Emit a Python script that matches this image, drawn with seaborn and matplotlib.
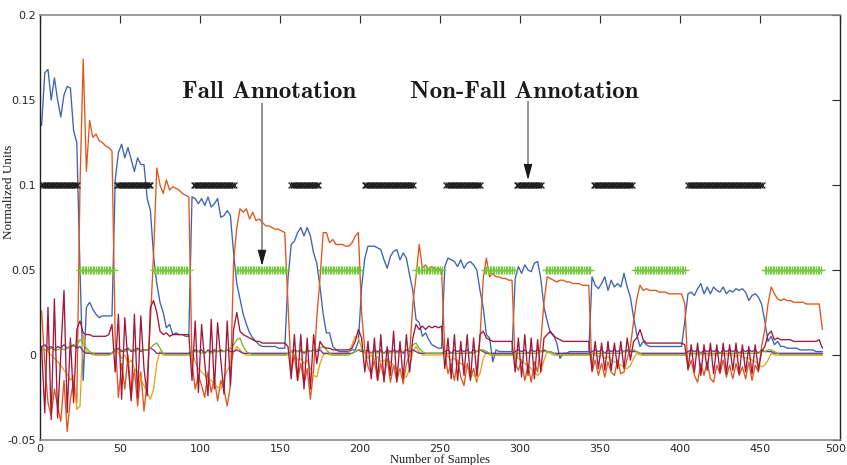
import numpy as np
import pandas as pd
import matplotlib
matplotlib.use("Agg")
import matplotlib.pyplot as plt
import matplotlib.transforms as mtransforms
import seaborn as sns

# ---------------- data (values in thousandths of a normalized unit) ----------------
samples = np.arange(1, 490, 2)

blue = [135,166,168,150,163,150,140,153,158,157,132,125,
        50,-15,28,31,27,24,22,23,23,23,23,
        103,119,124,116,122,115,108,116,112,112,92,85,
        58,42,31,25,16,18,12,13,12,12,11,11,
        93,92,89,92,88,93,87,89,92,81,82,85,82,60,
        42,33,24,18,13,10,8,6,5,5,5,5,5,4,4,4,45,
        65,67,72,75,70,75,70,60,54,40,
        24,13,13,5,3,2,2,2,2,3,3,8,40,
        57,64,64,64,63,62,56,51,58,61,62,56,60,57,47,38,
        21,19,11,13,9,6,5,4,4,
        52,57,56,55,52,56,51,54,55,53,50,38,
        28,12,10,-4,3,2,2,2,2,2,
        45,52,48,53,50,49,54,55,45,28,
        20,13,12,7,-2,1,1,2,2,2,2,2,2,2,
        46,41,39,42,46,38,44,40,42,40,48,40,34,
        22,12,5,8,6,5,5,5,5,5,5,5,5,5,5,5,20,
        36,37,35,39,42,36,40,36,40,38,37,40,36,38,37,39,38,39,37,32,35,36,34,30,20,
        8,11,6,8,5,5,4,4,4,4,3,3,3,3,3,2,2,2]

orange = [26,-5,-28,-36,-20,-30,-39,-15,-45,-26,-15,-28,
          100,174,108,138,128,130,126,125,123,122,120,
          10,-25,-5,-20,0,-25,-8,-30,-10,-33,-15,20,
          60,110,100,95,103,97,99,98,97,95,94,93,
          -5,-20,-12,-18,-25,-10,-22,-14,-27,-15,-20,-30,-18,55,
          75,86,84,86,80,84,79,80,78,76,76,75,74,74,73,72,30,
          -10,0,-15,-5,-17,-8,-26,-9,22,45,
          72,72,66,68,65,65,65,64,64,66,70,72,25,
          3,-7,-11,-3,-15,-5,-14,-2,-16,-6,-15,-8,-17,-5,0,30,
          46,65,51,53,50,52,50,51,50,
          2,-11,-5,-15,-3,-13,-18,-5,-14,-8,-16,10,
          45,57,46,48,46,46,45,45,44,44,
          -5,-9,-3,-15,-6,-16,-4,-10,8,31,
          46,45,44,43,44,44,43,43,42,42,42,41,41,41,
          -10,-3,-12,-5,-13,-4,-10,-12,-3,-11,-10,-2,5,
          20,33,41,38,39,38,38,38,37,37,37,36,36,36,36,36,30,
          -9,-3,-12,-16,-5,-12,-4,-14,-16,-6,-11,-3,-13,-6,-14,-5,-12,-7,-14,-4,-15,-6,-10,5,15,
          30,40,36,33,32,33,32,32,31,31,31,31,30,30,30,30,30,15]

yellow = [4,3,2,0,-2,-4,-6,-9,-11,-15,-12,-32,
          -30,12,2,1,0,0,0,0,0,0,1,
          4,1,-2,0,-5,-3,-8,-10,-14,-18,-22,-26,
          -20,-5,2,0,0,0,0,0,0,0,0,1,
          2,-4,-8,-10,-12,-14,-15,-17,-19,-20,-14,-9,-6,2,
          5,3,1,0,0,0,0,0,0,0,0,0,0,0,0,0,0,
          2,0,-3,-2,-5,-3,-8,-12,-13,-5,
          0,1,0,0,0,0,0,0,2,6,11,10,4,
          1,-2,0,-3,-1,-4,-3,-5,-4,-6,-8,-10,-12,-13,-8,2,
          5,2,0,0,0,0,0,0,0,
          2,-1,-3,-2,-4,-5,-6,-8,-10,-12,-14,-11,
          -2,2,0,0,0,0,0,0,0,0,
          1,-2,-3,-5,-6,-8,-10,-12,-10,-3,
          2,1,0,0,0,0,0,0,0,0,0,0,0,0,
          1,0,-1,0,-2,-1,-3,-4,-5,-6,-7,-8,-6,
          -2,1,0,0,0,0,0,0,0,0,0,0,0,0,0,0,0,
          1,0,1,0,0,1,0,0,0,0,1,0,0,0,0,-1,0,-1,-2,-2,-3,-4,-5,-7,-6,
          -3,1,0,0,0,0,0,0,0,0,0,0,0,0,0,0,0,0]

purple = [5,6,4,5,3,5,4,6,4,5,6,4,
          5,2,1,1,1,1,1,1,1,1,1,
          3,4,2,3,4,2,3,4,2,3,3,4,
          3,1,1,1,1,1,1,1,1,1,1,1,
          2,3,2,3,1,3,2,3,2,3,2,3,2,2,
          3,2,1,1,1,1,1,1,1,1,1,1,1,1,1,1,1,
          2,3,2,3,1,3,2,3,2,3,
          1,1,1,1,1,1,1,1,1,1,2,3,2,
          2,3,1,3,2,3,1,3,2,3,2,3,1,3,2,3,
          2,1,1,1,1,1,1,1,1,
          2,3,1,3,2,3,2,3,1,3,2,3,
          2,1,1,1,1,1,1,1,1,1,
          2,3,2,3,1,3,2,3,2,3,
          2,2,1,1,1,1,1,1,1,1,1,1,1,1,
          2,3,2,3,1,3,2,3,2,3,2,3,2,
          2,2,1,1,1,1,1,1,1,1,1,1,1,1,1,1,1,
          2,3,2,3,1,3,2,3,2,3,1,3,2,3,2,3,1,3,2,3,2,3,1,3,2,
          2,2,1,1,1,1,1,1,1,1,1,1,1,1,1,1,1,1]

green = [3,3,3,4,3,3,4,3,4,5,5,6,
         9,7,4,2,1,0,0,0,0,0,1,
         3,3,3,2,3,3,2,3,3,3,3,4,
         6,7,4,1,0,0,0,0,0,0,0,0,
         2,2,2,1,2,2,1,2,2,2,2,3,4,6,
         9,10,5,2,1,0,0,0,0,0,0,0,0,0,0,0,1,
         2,2,2,2,2,2,2,3,3,4,
         5,3,1,0,0,0,0,0,0,1,2,3,3,
         2,2,1,2,1,2,1,2,1,2,1,2,2,3,4,6,
         7,4,2,1,1,1,1,1,1,
         1,1,1,1,1,1,1,1,1,1,2,3,
         3,2,1,0,0,0,0,0,0,0,
         1,1,1,1,1,1,1,1,2,2,
         2,2,1,0,0,0,0,0,0,0,0,0,0,0,
         1,1,1,1,1,1,1,1,1,1,2,2,3,
         3,2,1,0,0,0,0,0,0,0,0,0,0,0,0,0,0,
         1,1,1,1,1,1,1,1,1,1,1,1,1,1,1,1,1,1,1,1,1,1,1,2,2,
         3,3,2,1,0,0,0,0,0,0,0,0,0,0,0,0,0,0]

darkred = [5,-34,28,-38,33,-37,0,38,-34,10,-28,15,
           20,13,12,12,11,11,11,11,11,12,18,
           -10,24,-26,22,-5,-27,24,-25,23,-8,-24,28,
           32,25,14,12,13,11,12,12,12,12,12,12,
           -15,20,-22,18,-5,-24,21,-20,19,-3,-23,20,-18,15,
           25,14,12,11,10,9,8,8,7,7,7,7,7,7,7,7,5,
           -14,12,-15,12,-20,10,-20,12,-5,8,
           5,4,4,3,3,3,3,3,3,4,8,15,10,
           -10,8,-14,10,-15,12,-16,5,-12,14,-16,8,-14,12,-10,10,
           18,15,17,15,17,16,17,16,17,
           -8,10,-14,12,-15,8,-12,12,-15,10,-12,12,
           14,10,9,8,8,8,8,8,8,8,
           -10,10,-13,12,-12,10,-14,9,-10,10,
           12,14,11,10,9,8,8,8,8,8,8,8,8,8,
           -9,8,-8,7,-9,8,-9,7,-8,8,-8,10,-3,
           8,10,15,9,7,7,7,7,7,7,7,7,7,7,7,7,6,
           -8,6,-10,7,-12,6,-9,7,-11,6,-10,7,-11,6,-9,7,-11,6,-10,5,-11,6,-9,2,5,
           12,14,9,10,9,9,9,9,8,8,8,8,8,8,8,8,9,4]

# annotation segments (sample ranges)
nonfall_start = [1, 48, 96, 157, 203, 254, 298, 346, 405]
nonfall_end   = [23, 69, 121, 174, 233, 275, 313, 370, 451]
fall_start    = [25, 71, 123, 176, 235, 278, 316, 372, 453]
fall_end      = [46, 93, 154, 200, 251, 296, 344, 403, 488]
nonfall_level = 0.1
fall_level = 0.05

y_ticks = [-0.05, 0, 0.05, 0.1, 0.15, 0.2]
y_tick_labels = ["-0.05", "0", "0.05", "0.1", "0.15", "0.2"]
x_ticks = [0, 50, 100, 150, 200, 250, 300, 350, 400, 450, 500]

# ---------------- figure ----------------
sns.set_theme(style="white")
plt.rcParams["font.family"] = ["DejaVu Sans"]

fig = plt.figure(figsize=(8.47, 4.65), dpi=100)
ax = fig.add_axes([40 / 847, 25 / 465, 800 / 847, 425 / 465])

order = ["s1", "s2", "s3", "s4", "s5", "s6"]
colors = {"s1": "#3d62b3", "s2": "#e0561c", "s3": "#e6a41e",
          "s4": "#7b2d8c", "s5": "#77b336", "s6": "#a2173a"}
df = pd.DataFrame({"x": samples,
                   "s1": np.array(blue) / 1000, "s2": np.array(orange) / 1000,
                   "s3": np.array(yellow) / 1000, "s4": np.array(purple) / 1000,
                   "s5": np.array(green) / 1000, "s6": np.array(darkred) / 1000})
long = df.melt(id_vars="x", var_name="series", value_name="value")
sns.lineplot(data=long, x="x", y="value", hue="series", hue_order=order,
             palette=colors, linewidth=0.95, legend=False, estimator=None,
             sort=False, ax=ax)

nf_x = np.concatenate([np.arange(s, e + 1) for s, e in zip(nonfall_start, nonfall_end)])
f_x = np.concatenate([np.arange(s, e + 1) for s, e in zip(fall_start, fall_end)])
sns.scatterplot(x=nf_x, y=np.full(len(nf_x), nonfall_level), marker="x",
                color="#1e1e1e", s=18, linewidth=0.9, ax=ax, zorder=5, legend=False)
sns.scatterplot(x=f_x, y=np.full(len(f_x), fall_level), marker="+",
                color="#72c83a", s=26, linewidth=0.9, ax=ax, zorder=5, legend=False)

# annotations
for label, tx, ax_x, y_top, y_tip in [("Fall Annotation", 143, 138.75, 0.148, 0.0525),
                                       ("Non-Fall Annotation", 302.5, 305, 0.149, 0.103)]:
    ax.text(tx, 0.1547, label, ha="center", va="center", fontsize=18,
            family="cmb10", color="#1a1a1a")
    ax.annotate("", xy=(ax_x, y_tip + 0.006), xytext=(ax_x, y_top),
                arrowprops=dict(arrowstyle="-", color="#808080", lw=1.2,
                                shrinkA=0, shrinkB=0))
    ax.annotate("", xy=(ax_x, y_tip), xytext=(ax_x, y_tip + 0.0075),
                arrowprops=dict(arrowstyle="-|>,head_length=0.8,head_width=0.22",
                                color="#1a1a1a", lw=0.8, shrinkA=0, shrinkB=0,
                                mutation_scale=12))

ax.set_xlim(0, 500)
ax.set_ylim(-0.05, 0.2)
ax.set_xticks(x_ticks)
ax.set_xticklabels([str(v) for v in x_ticks])
ax.set_yticks(y_ticks)
ax.set_yticklabels(y_tick_labels)
ax.tick_params(direction="in", length=5.8, width=0.8, top=True, right=True,
               labelsize=8, colors="#262626", pad=3)
# keep the last x tick label inside the canvas
last = ax.get_xticklabels()[-1]
last.set_transform(last.get_transform() + mtransforms.ScaledTranslation(-4 / 100, 0, fig.dpi_scale_trans))

ax.set_xlabel("Number of Samples", family="Liberation Serif", fontsize=9, color="#1a1a1a")
ax.xaxis.set_label_coords(0.5, -0.033)
ax.set_ylabel("Normalized Units", family="Liberation Serif", fontsize=9.5, color="#1a1a1a")
ax.yaxis.set_label_coords(-0.031, 0.585)

for side in ["left", "right"]:
    ax.spines[side].set_color("#222222")
    ax.spines[side].set_linewidth(1.0)
for side in ["top", "bottom"]:
    ax.spines[side].set_color("#8a8a8a")
    ax.spines[side].set_linewidth(1.2)

fig.savefig("out.png", dpi=100)
